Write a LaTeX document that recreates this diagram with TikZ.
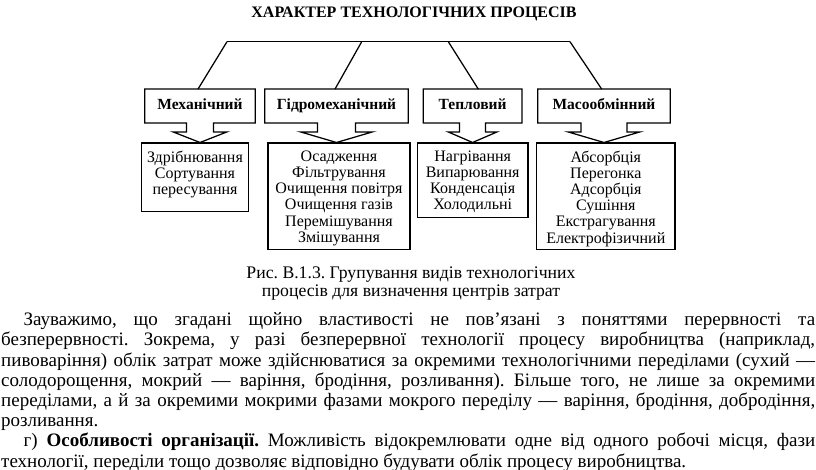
\documentclass[tikz,border=0pt]{standalone}
\usepackage{fontspec}
\setmainfont{Liberation Serif}
\usetikzlibrary{calc}
\frenchspacing
\newcommand{\arrbox}[4]{%
  \draw[boxline] ($(#1.south)+(-#2,0)$) -- (#1.south west) -- (#1.north west) -- (#1.north east) -- (#1.south east)
    -- ($(#1.south)+(#2,0)$) -- ($(#1.south)+(#2,9)$) -- ($(#1.south)+(#3,9)$)
    -- (#1.south |- #4.north) -- ($(#1.south)+(-#3,9)$) -- ($(#1.south)+(-#2,9)$) -- cycle;}
\begin{document}
\begin{tikzpicture}[x=1pt,y=-1pt,
  boxline/.style={line width=1.25pt, draw=black, line join=miter},
  upbox/.style={inner sep=0pt, text height=11pt, text depth=3.5pt, minimum height=33.4pt, font=\fontsize{15.5}{17}\selectfont\bfseries},
  lowbox/.style={draw=black, line width=1.25pt, inner sep=0pt, anchor=north},
  lowtext/.style={inner sep=0pt, anchor=north, align=center, font=\fontsize{16}{16.2}\selectfont},
  bodyline/.style={inner sep=0pt, anchor=base west, font=\fontsize{19}{20.2}\selectfont},
  capline/.style={inner sep=0pt, anchor=base, font=\fontsize{17.7}{19}\selectfont},
  conn/.style={line width=1.25pt, draw=black}
]
\useasboundingbox (0,0) rectangle (816,470);
\fill[white] (0,0) rectangle (816,470);

\node[inner sep=0pt, font=\fontsize{16}{18}\selectfont\bfseries] (title) at (414,14) {ХАРАКТЕР ТЕХНОЛОГІЧНИХ ПРОЦЕСІВ};

% upper boxes
\node[upbox, minimum width=110pt] (a1) at (200,106) {Механічний};
\node[upbox, minimum width=143pt] (a2) at (336.5,106) {Гідромеханічний};
\node[upbox, minimum width=98.2pt] (a3) at (472.6,106) {Тепловий};
\node[upbox, minimum width=132pt] (a4) at (604,106) {Масообмінний};

% lower boxes
\node[lowbox, minimum width=106.6pt, minimum height=68.5pt] (b1) at (195,142.5) {};
\node[lowbox, minimum width=142pt, minimum height=106.5pt] (b2) at (339,142.5) {};
\node[lowbox, minimum width=110.7pt, minimum height=74.5pt] (b3) at (472.7,142.5) {};
\node[lowbox, minimum width=138.3pt, minimum height=106.5pt] (b4) at (605.8,142.5) {};

\node[lowtext] (x1) at ($(b1.north)+(0,8)$) {Здрібнювання\\Сортування\\пересування};
\node[lowtext] (x2) at ($(b2.north)+(0,8)$) {Осадження\\Фільтрування\\Очищення повітря\\Очищення газів\\Перемішування\\Змішування};
\node[lowtext] (x3) at ($(b3.north)+(0,8)$) {Нагрівання\\Випарювання\\Конденсація\\Холодильні};
\node[lowtext] (x4) at ($(b4.north)+(0,8)$) {Абсорбція\\Перегонка\\Адсорбція\\Сушіння\\Екстрагування\\Електрофізичний};

% box outlines with block arrows
\arrbox{a1}{13.5}{27}{b1}
\arrbox{a2}{19}{36}{b2}
\arrbox{a3}{13}{24.5}{b3}
\arrbox{a4}{23}{36}{b4}

% connectors
\coordinate (t1) at (227,41.7);
\coordinate (t2) at (361.7,41.7);
\coordinate (t3) at (448.3,41.7);
\coordinate (t4) at (570,41.7);
\draw[conn] (t1) -- (t4);
\draw[conn] (t1) -- ($(a1.north)+(-2,0)$);
\draw[conn] (t2) -- ($(a2.north)+(-1.5,0)$);
\draw[conn] (t3) -- ($(a3.north)+(5.7,0)$);
\draw[conn] (t4) -- ($(a4.north)+(-2.3,0)$);

% caption
\node[capline] (c1) at (411,278) {Рис. В.1.3. Групування видів технологічних};
\node[capline] (c2) at (411,296.5) {процесів для визначення центрів затрат};

% body text
\node[bodyline] (l1) at (23.5,325.7) {\makebox[791.5pt][s]{Зауважимо, що згадані щойно властивості не пов’язані з поняттями перервності та}};
\node[bodyline] (l2) at (1,345.9) {\makebox[814pt][s]{безперервності. Зокрема, у разі безперервної технології процесу виробництва (наприклад,}};
\node[bodyline] (l3) at (1,366.1) {\makebox[814pt][s]{пивоваріння) облік затрат може здійснюватися за окремими технологічними переділами (сухий —}};
\node[bodyline] (l4) at (1,386.3) {\makebox[814pt][s]{солодорощення, мокрий — варіння, бродіння, розливання). Більше того, не лише за окремими}};
\node[bodyline] (l5) at (1,406.5) {\makebox[814pt][s]{переділами, а й за окремими мокрими фазами мокрого переділу — варіння, бродіння, добродіння,}};
\node[bodyline] (l6) at (1,426.7) {розливання.};
\node[bodyline] (l7) at (23.5,446.9) {\makebox[791.5pt][s]{г) \textbf{Особливості організації.} Можливість відокремлювати одне від одного робочі місця, фази}};
\node[bodyline] (l8) at (1,467.1) {технології, переділи тощо дозволяє відповідно будувати облік процесу виробництва.};
\end{tikzpicture}
\end{document}
